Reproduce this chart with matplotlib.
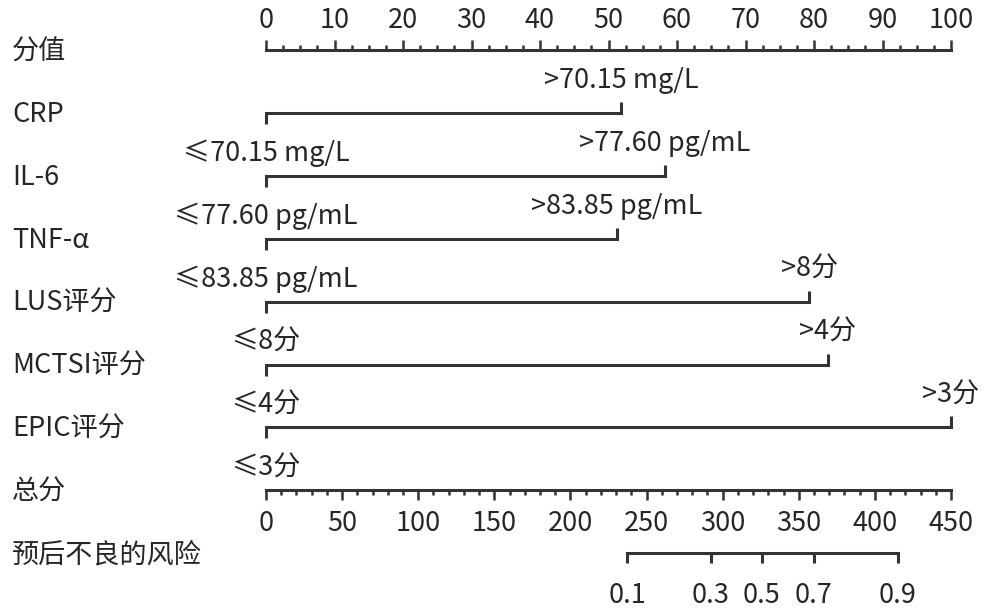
import matplotlib
matplotlib.use('Agg')
import matplotlib.pyplot as plt
import numpy as np

# DATA
# ------------------------------------------------------------------
points_ticks = [0, 10, 20, 30, 40, 50, 60, 70, 80, 90, 100]
var_names = ['CRP', 'IL-6', 'TNF-α', 'LUS评分', 'MCTSI评分', 'EPIC评分']
low_labels = ['≤70.15 mg/L', '≤77.60 pg/mL', '≤83.85 pg/mL', '≤8分', '≤4分', '≤3分']
high_labels = ['>70.15 mg/L', '>77.60 pg/mL', '>83.85 pg/mL', '>8分', '>4分', '>3分']
high_points = [51.8, 58.2, 51.2, 79.3, 82.0, 100.0]
total_ticks = [0, 50, 100, 150, 200, 250, 300, 350, 400, 450]
total_max = 450
risk_labels = ['0.1', '0.3', '0.5', '0.7', '0.9']
risk_total = [237.2, 292.3, 325.8, 360.0, 415.2]

# STYLE
# ------------------------------------------------------------------
plt.rcParams['font.family'] = ['Noto Sans CJK SC', 'DejaVu Sans']
line_color = '#333333'
text_color = '#262626'
fs = 19.5
lw = 2.2

fig = plt.figure(figsize=(9.91, 6.10), dpi=100)
ax = fig.add_axes([0, 0, 1, 1])
ax.axis('off')

# x in points (0-100), y in pixels from the top
px_per_pt = 6.85
x0 = 266
ax.set_xlim(-x0 / px_per_pt, (991 - x0) / px_per_pt)
ax.set_ylim(610, 0)

row_y = [50 + 62.9 * i for i in range(9)]
label_x = -254 / px_per_pt


def row_label(y, s):
    ax.text(label_x, y + 2, s, ha='left', va='center', fontsize=fs, color=text_color)


# ROW 0 — points scale
# ------------------------------------------------------------------
y = row_y[0]
row_label(y, '分值')
ax.plot([0, 100], [y, y], color=line_color, lw=lw, solid_capstyle='projecting')
minor = np.arange(0, 100.01, 2.5)
for m in minor:
    h = 10 if m in points_ticks else 5
    ax.plot([m, m], [y, y - h], color=line_color, lw=1.8, solid_capstyle='butt')
for t in points_ticks:
    ax.text(t, y - 22, str(t), ha='center', va='baseline', fontsize=fs, color=text_color)

# ROWS 1-6 — variables
# ------------------------------------------------------------------
for i, name in enumerate(var_names):
    y = row_y[i + 1]
    row_label(y, name)
    e = high_points[i]
    ax.plot([0, 0, e, e], [y + 11, y, y, y - 11], color=line_color, lw=lw,
            solid_joinstyle='miter', solid_capstyle='butt')
    ax.text(e, y - 25, high_labels[i], ha='center', va='baseline',
            fontsize=fs, color=text_color)
    ax.text(0, y + 48, low_labels[i], ha='center', va='baseline',
            fontsize=fs, color=text_color)

# ROW 7 — total points
# ------------------------------------------------------------------
y = row_y[7]
row_label(y, '总分')
scale = 100 / total_max
ax.plot([0, 100], [y, y], color=line_color, lw=lw, solid_capstyle='projecting')
for m in np.arange(0, total_max + 0.01, 10):
    h = 10 if m in total_ticks else 5
    ax.plot([m * scale, m * scale], [y, y + h], color=line_color, lw=1.8,
            solid_capstyle='butt')
for t in total_ticks:
    ax.text(t * scale, y + 41, str(t), ha='center', va='baseline',
            fontsize=fs, color=text_color)

# ROW 8 — risk
# ------------------------------------------------------------------
y = row_y[8]
row_label(y, '预后不良的风险')
rx = [r * scale for r in risk_total]
ax.plot([rx[0], rx[-1]], [y, y], color=line_color, lw=lw, solid_capstyle='projecting')
for x, lab in zip(rx, risk_labels):
    ax.plot([x, x], [y, y + 10], color=line_color, lw=lw, solid_capstyle='butt')
    ax.text(x, y + 50, lab, ha='center', va='baseline', fontsize=fs, color=text_color)

fig.savefig('out.png', dpi=100, facecolor='white')
